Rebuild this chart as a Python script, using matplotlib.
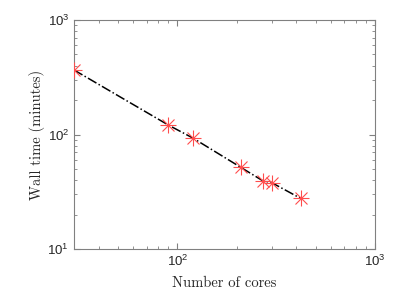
import matplotlib
matplotlib.use("Agg")
import matplotlib.pyplot as plt

# cores used and measured wall time (minutes)
cores = [30, 90, 120, 210, 270, 300, 420]
wall_time = [366, 121, 93, 51.5, 39.5, 38, 27.7]

plt.rcParams['mathtext.fontset'] = 'custom'
plt.rcParams['mathtext.rm'] = 'Liberation Sans'
plt.rcParams['mathtext.it'] = 'Liberation Sans:italic'
plt.rcParams['mathtext.bf'] = 'Liberation Sans:bold'
plt.rcParams['font.family'] = 'Liberation Sans'

fig = plt.figure(figsize=(4.07, 3.05), dpi=100)
ax = fig.add_axes([74 / 407, 56 / 305, 301 / 407, 229 / 305])

ax.plot(cores, wall_time, color='k', linestyle='-.', linewidth=1.1, zorder=2)
# MATLAB-style asterisk = plus + cross
ax.plot(cores, wall_time, linestyle='none', marker='+', markersize=11,
        markeredgewidth=0.8, color='#ff4d4d', zorder=3)
ax.plot(cores, wall_time, linestyle='none', marker='x', markersize=8,
        markeredgewidth=0.8, color='#ff4d4d', zorder=3)

ax.set_xscale('log')
ax.set_yscale('log')
ax.set_xlim(30, 1000)
ax.set_ylim(10, 1000)

grey = '#808080'
for s in ax.spines.values():
    s.set_color(grey)
    s.set_linewidth(0.8)
ax.tick_params(which='both', direction='in', top=True, right=True, color=grey,
               labelsize=9.5, labelcolor='#262626')
ax.tick_params(which='major', length=4)
ax.tick_params(which='minor', length=2.5)

ax.set_xlabel("Number of cores", family='cmr10', fontsize=10.5, color='#262626',
              labelpad=5)
ax.set_ylabel("Wall time (minutes)", family='cmr10', fontsize=10.5, color='#262626',
              labelpad=2)

fig.savefig("out.png", dpi=100)
